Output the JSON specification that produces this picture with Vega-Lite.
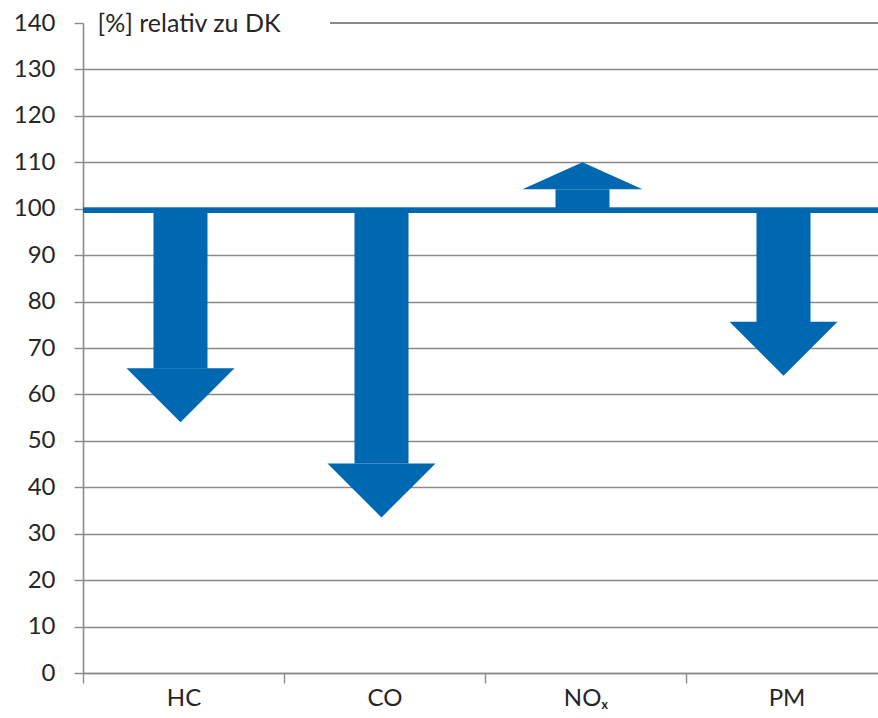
{
  "$schema": "https://vega.github.io/schema/vega-lite/v6.json",
  "width": 804,
  "height": 650,
  "autosize": {"type": "none"},
  "padding": {"left": 83, "top": 23, "right": 0, "bottom": 45},
  "background": "white",
  "config": {
    "font": "Lato",
    "view": {"stroke": null},
    "axis": {
      "labelFont": "Lato",
      "labelFontSize": 24,
      "labelColor": "#262626",
      "domainColor": "#8a8a8a",
      "domainWidth": 1.6,
      "tickColor": "#8a8a8a",
      "tickWidth": 1.4,
      "gridColor": "#8a8a8a",
      "gridWidth": 1.4
    }
  },
  "data": {
    "values": [
      {"pollutant": "HC", "base": 100, "neck": 65.6, "tip": 54},
      {"pollutant": "CO", "base": 100, "neck": 45.1, "tip": 33.5},
      {"pollutant": "NOx", "base": 100, "neck": 104.2, "tip": 110},
      {"pollutant": "PM", "base": 100, "neck": 75.6, "tip": 64}
    ]
  },
  "encoding": {
    "x": {
      "field": "pollutant",
      "type": "nominal",
      "sort": null,
      "scale": {"paddingInner": 0, "paddingOuter": 0},
      "axis": {
        "title": null,
        "labelAngle": 0,
        "tickBand": "extent",
        "tickSize": 10,
        "labelPadding": 3,
        "grid": false,
        "labelExpr": "datum.value === 'NOx' ? 'NOₓ' : datum.value"
      }
    }
  },
  "layer": [
    {
      "mark": {"type": "bar", "size": 54, "color": "#0067b1", "xOffset": -3},
      "encoding": {
        "y": {
          "field": "neck",
          "type": "quantitative",
          "scale": {"domain": [0, 140], "nice": false},
          "axis": {
            "values": [0, 10, 20, 30, 40, 50, 60, 70, 80, 90, 100, 110, 120, 130, 140],
            "grid": true,
            "gridOpacity": {"condition": {"test": "datum.value === 140", "value": 0}, "value": 1},
            "tickSize": 9,
            "labelPadding": 19,
            "title": "[%] relativ zu DK",
            "titleAngle": 0,
            "titleAlign": "left",
            "titleBaseline": "middle",
            "titleX": 14,
            "titleY": 0,
            "titleFont": "Lato",
            "titleFontSize": 25,
            "titleFontWeight": "normal",
            "titleColor": "#262626"
          }
        },
        "y2": {"field": "base"}
      }
    },
    {
      "transform": [{"filter": "datum.tip < datum.base"}],
      "mark": {
        "type": "point",
        "shape": "M-1,-1L1,-1L0,0Z",
        "filled": true,
        "opacity": 1,
        "strokeWidth": 0,
        "size": 11664,
        "color": "#0067b1",
        "xOffset": -3
      },
      "encoding": {
        "y": {"field": "tip", "type": "quantitative"}
      }
    },
    {
      "transform": [{"filter": "datum.tip > datum.base"}],
      "mark": {
        "type": "point",
        "shape": "M-1,0.45L1,0.45L0,0Z",
        "filled": true,
        "opacity": 1,
        "strokeWidth": 0,
        "size": 14400,
        "color": "#0067b1",
        "xOffset": -3
      },
      "encoding": {
        "y": {"field": "tip", "type": "quantitative"}
      }
    },
    {
      "mark": {"type": "rule", "color": "#0067b1", "strokeWidth": 5, "yOffset": 1.5},
      "encoding": {
        "x": null,
        "y": {"datum": 100}
      }
    },
    {
      "mark": {"type": "rule", "color": "#8a8a8a", "strokeWidth": 1.4},
      "encoding": {
        "x": {"datum": "CO", "bandPosition": 0.23},
        "x2": {"datum": "PM", "bandPosition": 1},
        "y": {"datum": 140}
      }
    }
  ]
}
